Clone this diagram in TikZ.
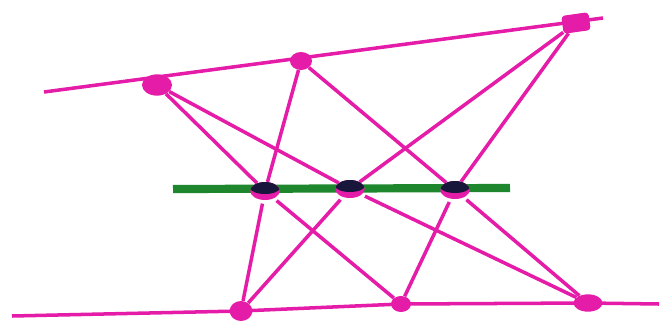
\documentclass[tikz,border=0pt]{standalone}
\usetikzlibrary{shapes.geometric,backgrounds}
\definecolor{pink}{RGB}{228,28,168}
\definecolor{navy}{RGB}{24,22,58}
\definecolor{darkgreen}{RGB}{30,135,45}

\begin{document}
\begin{tikzpicture}[x=0.03cm,y=-0.03cm,line cap=round,
    every node/.style={inner sep=0pt,fill=pink},
    pt/.style={ellipse,minimum width=0.62cm,minimum height=0.52cm},
    meet/.style={ellipse,minimum width=0.88cm,minimum height=0.54cm,path picture={\fill[navy] ([yshift=0.1cm]path picture bounding box.center) ellipse [x radius=0.45cm,y radius=0.19cm];}},
    pen/.style={draw=pink,line width=3pt}]
    \useasboundingbox (0,0) rectangle (662,328);
    \coordinate (tl) at (44,92);
    \coordinate (tr) at (603,18);
    \coordinate (bl) at (12,316);
    \coordinate (br) at (659,304);
    \coordinate (gl) at (173,189);
    \coordinate (gr) at (510,188);
    \node[pt,minimum width=0.9cm,minimum height=0.64cm] (p1) at (157,85) {};
    \node[pt,minimum width=0.66cm,minimum height=0.54cm] (p2) at (301,61) {};
    \node[rectangle,rounded corners=3pt,minimum width=0.82cm,minimum height=0.54cm,rotate=8] (p3) at (576,23) {};
    \node[pt,minimum width=0.68cm,minimum height=0.6cm] (q1) at (241,311) {};
    \node[pt,minimum width=0.6cm,minimum height=0.48cm] (q2) at (401,304) {};
    \node[pt,minimum width=0.87cm,minimum height=0.52cm] (q3) at (588,303) {};
    \node[meet] (x1) at (265,191) {};
    \node[meet] (x2) at (350,189) {};
    \node[meet] (x3) at (455,190) {};
    \begin{scope}[on background layer]
      \draw[pen] (tl) -- (tr);
      \draw[pen] (bl) -- (q1.center) -- (q2.center) -- (q3.center) -- (br);
      \draw[pen,shorten <=3pt] (p1) -- (x1) -- (q2);
      \draw[pen,shorten <=3pt] (p2) -- (x1) -- (q1);
      \draw[pen,shorten <=3pt] (p1) -- (x2) -- (q3);
      \draw[pen,shorten <=3pt] (p3) -- (x2) -- (q1);
      \draw[pen,shorten <=3pt] (p2) -- (x3) -- (q3);
      \draw[pen,shorten <=3pt] (p3) -- (x3) -- (q2);
      \draw[darkgreen,line width=7pt] (gl) -- (gr);
    \end{scope}
  \end{tikzpicture}
\end{document}
